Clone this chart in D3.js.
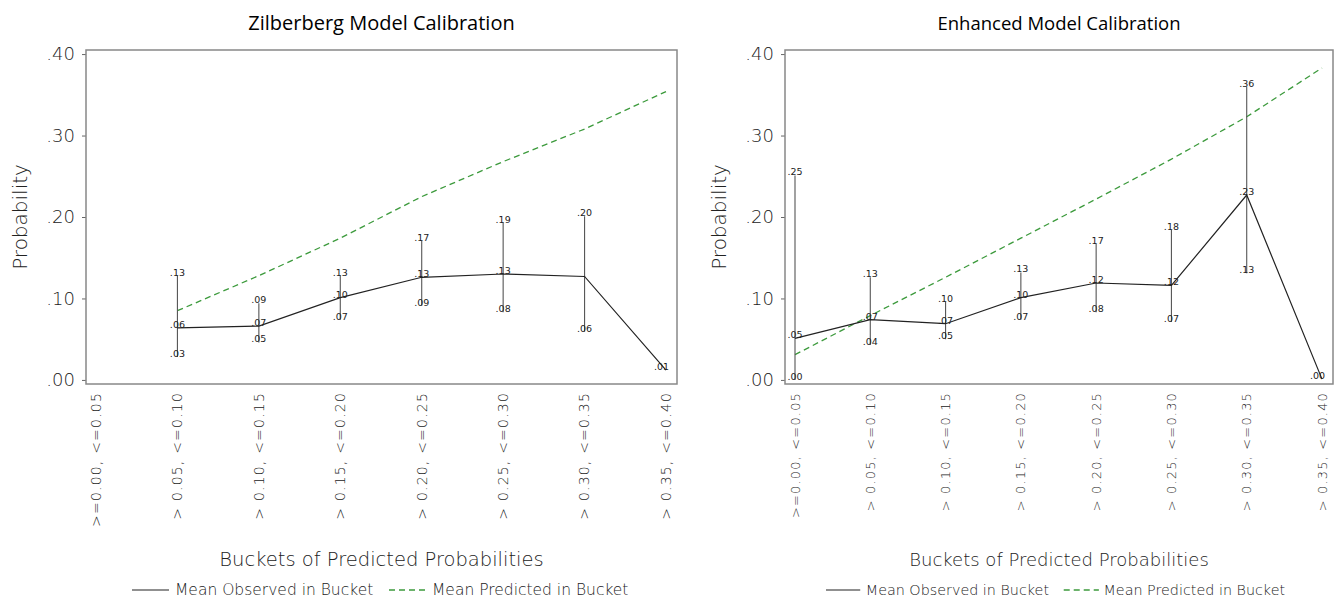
<!DOCTYPE html>
<html>
<head>
<meta charset="utf-8">
<script src="https://cdn.jsdelivr.net/npm/d3@7"></script>
<style>
    body { margin: 0; background: #fff; }
    svg { display: block; }
    .tick-label { font-family: "DejaVu Sans", sans-serif; font-weight: 200; fill: #222; }
    .point-label { font-family: "DejaVu Sans", sans-serif; font-size: 9.5px; fill: #222; }
</style>
</head>
<body>
<div id="chart"></div>
<script>
// buckets of predicted probability (x categories)
const buckets = [">=0.00, <=0.05", "> 0.05, <=0.10", "> 0.10, <=0.15", "> 0.15, <=0.20",
    "> 0.20, <=0.25", "> 0.25, <=0.30", "> 0.30, <=0.35", "> 0.35, <=0.40"];
const yTicks = [0, 0.1, 0.2, 0.3, 0.4];

// Zilberberg model
const zilObserved = [null, 0.064, 0.066, 0.101, 0.126, 0.130, 0.127, 0.012];
const zilUpper = [null, 0.128, 0.094, 0.128, 0.171, 0.193, 0.201, null];
const zilLower = [null, 0.028, 0.046, 0.074, 0.091, 0.083, 0.059, null];
const zilPredicted = [null, 0.085, 0.128, 0.174, 0.225, 0.268, 0.308, 0.354];
const zilHiddenMeanLabels = [6];

// Enhanced model
const enhObserved = [0.051, 0.074, 0.069, 0.101, 0.119, 0.116, 0.227, 0.001];
const enhUpper = [0.251, 0.126, 0.096, 0.132, 0.167, 0.184, 0.360, null];
const enhLower = [0.000, 0.043, 0.050, 0.074, 0.083, 0.071, 0.131, null];
const enhPredicted = [0.031, 0.079, 0.126, 0.174, 0.222, 0.271, 0.323, 0.383];
const enhHiddenMeanLabels = [];

const width = 1340, height = 604;
const svg = d3.select("#chart").append("svg")
    .attr("width", width)
    .attr("height", height);

const fmt = v => d3.format(".2f")(v).replace(/^0\./, ".");

function drawPanel(cfg) {
    const g = svg.append("g");
    const frame = cfg.frame;
    const s = cfg.scale;

    const x = d3.scalePoint()
        .domain(buckets)
        .range([frame.left + 10, frame.right - 11]);

    const y = d3.scaleLinear()
        .domain([-0.005, 0.405])
        .range([frame.bottom, frame.top]);

    // title
    g.append("text")
        .attr("x", (frame.left + frame.right) / 2)
        .attr("y", 30)
        .attr("text-anchor", "middle")
        .style("font-family", "'Open Sans', sans-serif")
        .style("font-size", (20 * s) + "px")
        .style("fill", "#000")
        .text(cfg.title);

    // y axis
    const yAxis = d3.axisLeft(y)
        .tickValues(yTicks)
        .tickSize(4)
        .tickPadding(7)
        .tickFormat(fmt);

    const ya = g.append("g")
        .attr("transform", `translate(${frame.left},0)`)
        .call(yAxis);
    ya.select(".domain").remove();
    ya.selectAll(".tick line").attr("stroke", "#666");
    ya.selectAll(".tick text")
        .attr("class", "tick-label")
        .style("font-size", "18px");

    g.append("text")
        .attr("transform", `translate(${frame.left - 66},${(frame.top + frame.bottom) / 2}) rotate(-90)`)
        .attr("text-anchor", "middle")
        .attr("dy", "0.35em")
        .attr("class", "tick-label")
        .style("font-size", "20px")
        .text("Probability");

    // x labels, rotated
    g.selectAll(".xlab")
        .data(buckets)
        .join("text")
        .attr("class", "xlab tick-label")
        .attr("transform", d => `translate(${x(d)},${frame.bottom + 8}) rotate(-90)`)
        .attr("text-anchor", "end")
        .attr("dy", "0.35em")
        .style("font-size", (14 * s) + "px")
        .style("letter-spacing", "1.2px")
        .text(d => d);

    g.append("text")
        .attr("x", (frame.left + frame.right) / 2)
        .attr("y", 566)
        .attr("text-anchor", "middle")
        .attr("class", "tick-label")
        .style("font-size", (19.5 * s) + "px")
        .text("Buckets of Predicted Probabilities");

    // frame
    g.append("rect")
        .attr("x", frame.left)
        .attr("y", frame.top)
        .attr("width", frame.right - frame.left)
        .attr("height", frame.bottom - frame.top)
        .attr("fill", "none")
        .attr("stroke", "#888")
        .attr("stroke-width", 1.5);

    const rows = buckets.map((b, i) => ({
        bucket: b,
        index: i,
        observed: cfg.observed[i],
        upper: cfg.upper[i],
        lower: cfg.lower[i],
        predicted: cfg.predicted[i]
    }));

    // predicted line
    const predLine = d3.line()
        .defined(d => d.predicted != null)
        .x(d => x(d.bucket))
        .y(d => y(d.predicted));

    g.append("path")
        .datum(rows)
        .attr("d", predLine)
        .attr("fill", "none")
        .attr("stroke", "#3c9a3c")
        .attr("stroke-width", 1.3)
        .attr("stroke-dasharray", "6,4");

    // error bars
    const bars = rows.filter(d => d.upper != null && d.lower != null);
    g.selectAll(".err")
        .data(bars)
        .join("line")
        .attr("class", "err")
        .attr("x1", d => x(d.bucket))
        .attr("x2", d => x(d.bucket))
        .attr("y1", d => y(d.lower))
        .attr("y2", d => y(d.upper))
        .attr("stroke", "#555")
        .attr("stroke-width", 1.1);

    // observed line
    const obsLine = d3.line()
        .defined(d => d.observed != null)
        .x(d => x(d.bucket))
        .y(d => y(d.observed));

    g.append("path")
        .datum(rows)
        .attr("d", obsLine)
        .attr("fill", "none")
        .attr("stroke", "#222")
        .attr("stroke-width", 1.2);

    // labels
    const labels = [];
    rows.forEach(d => {
        const hasBar = d.upper != null;
        if (hasBar) {
            labels.push({ x: x(d.bucket), v: d.upper, anchor: "middle" });
            labels.push({ x: x(d.bucket), v: d.lower, anchor: "middle" });
        }
        if (d.observed != null && !cfg.hiddenMean.includes(d.index)) {
            labels.push({ x: hasBar ? x(d.bucket) : x(d.bucket) + 3, v: d.observed, anchor: hasBar ? "middle" : "end" });
        }
    });

    g.selectAll(".point-label")
        .data(labels)
        .join("text")
        .attr("class", "point-label")
        .attr("x", d => d.x)
        .attr("y", d => y(d.v) - 1)
        .attr("text-anchor", d => d.anchor)
        .attr("dy", "0.1em")
        .text(d => fmt(d.v));

    // legend
    const lg = g.append("g").attr("transform", `translate(${cfg.legendX},590)`);
    lg.append("line")
        .attr("x1", 0).attr("x2", 37 * s)
        .attr("stroke", "#222").attr("stroke-width", 1.2);
    lg.append("text")
        .attr("x", 43 * s).attr("dy", "0.35em")
        .attr("class", "tick-label")
        .style("font-size", (15.5 * s) + "px")
        .text("Mean Observed in Bucket");
    lg.append("line")
        .attr("x1", 257 * s).attr("x2", 295 * s)
        .attr("stroke", "#3c9a3c").attr("stroke-width", 1.3)
        .attr("stroke-dasharray", "6,4");
    lg.append("text")
        .attr("x", 300 * s).attr("dy", "0.35em")
        .attr("class", "tick-label")
        .style("font-size", (15.5 * s) + "px")
        .text("Mean Predicted in Bucket");
}

drawPanel({
    title: "Zilberberg Model Calibration",
    frame: { left: 86, right: 677, top: 50, bottom: 384 },
    scale: 1,
    observed: zilObserved,
    upper: zilUpper,
    lower: zilLower,
    predicted: zilPredicted,
    hiddenMean: zilHiddenMeanLabels,
    legendX: 132
});

drawPanel({
    title: "Enhanced Model Calibration",
    frame: { left: 785, right: 1333, top: 50, bottom: 384 },
    scale: 0.925,
    observed: enhObserved,
    upper: enhUpper,
    lower: enhLower,
    predicted: enhPredicted,
    hiddenMean: enhHiddenMeanLabels,
    legendX: 826
});
</script>
</body>
</html>
